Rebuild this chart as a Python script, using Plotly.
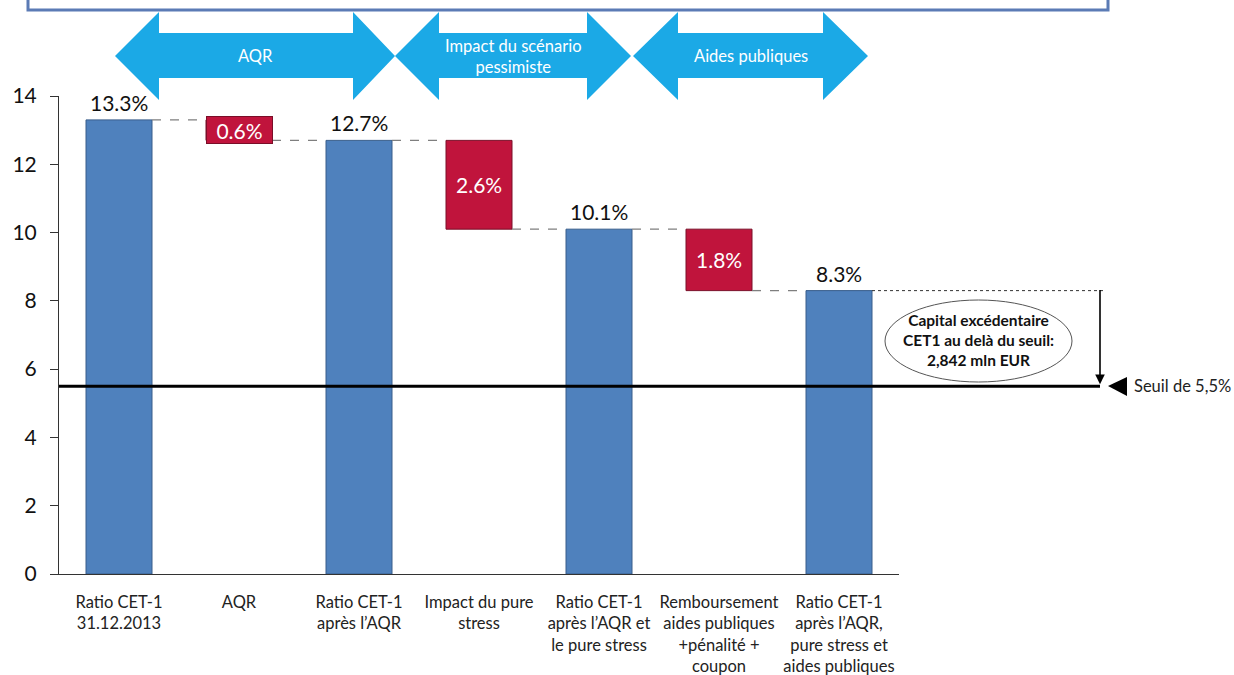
import plotly.graph_objects as go

# ---------------- data ----------------
categories = [
    "Ratio CET-1<br>31.12.2013",
    "AQR",
    "Ratio CET-1<br>après l’AQR",
    "Impact du pure<br>stress",
    "Ratio CET-1<br>après l’AQR et<br>le pure stress",
    "Remboursement<br>aides publiques<br>+pénalité +<br>coupon",
    "Ratio CET-1<br>après l’AQR,<br>pure stress et<br>aides publiques",
]
values = [13.3, -0.6, 12.7, -2.6, 10.1, -1.8, 8.3]
kinds = ["total", "delta", "total", "delta", "total", "delta", "total"]
value_labels = ["13.3%", "0.6%", "12.7%", "2.6%", "10.1%", "1.8%", "8.3%"]
phase_labels = ["AQR", "Impact du scénario<br>pessimiste", "Aides publiques"]
threshold = 5.5
threshold_label = "Seuil de 5,5%"
excess_label = "<b>Capital excédentaire<br>CET1 au delà du seuil:<br>2,842 mln EUR</b>"
y_ticks = [0, 2, 4, 6, 8, 10, 12, 14]

# ---------------- layout constants ----------------
OFF = 0                      # body margin removed via post_script
W, H = 1234 - OFF, 675 - OFF
L, T = 59 - OFF, 96 - OFF
PW, PH = 840, 478
R, B = W - L - PW, H - T - PH
BLUE = "#4F81BD"
RED = "#C0143C"
CYAN = "#1BA9E6"
FONT = "Lato, 'Open Sans', sans-serif"

def px(xp):  # screen px -> paper
    return (xp - OFF - L) / PW

def py(yp):
    return (H - B - (yp - OFF)) / PH

# waterfall bases / heights
bases, heights = [], []
level = 0.0
for v, k in zip(values, kinds):
    if k == "total":
        bases.append(0.0)
        heights.append(v)
        level = v
    else:
        new = level + v
        bases.append(new)
        heights.append(-v)
        level = new

xs = list(range(len(categories)))
bw = 0.55
colors = [BLUE if k == "total" else RED for k in kinds]
lines = ["#385D8A" if k == "total" else "#7A0E28" for k in kinds]

fig = go.Figure()
fig.add_trace(go.Bar(
    x=xs, y=heights, base=bases, width=bw,
    marker=dict(color=colors, line=dict(color=lines, width=1)),
    hoverinfo="skip", showlegend=False,
))

shapes = []
annotations = []

# connectors
for i in range(len(xs) - 1):
    yc = values[i] if kinds[i] == "total" else bases[i]
    shapes.append(dict(type="line", xref="x", yref="y",
                       x0=xs[i] + bw / 2, x1=xs[i + 1] - bw / 2, y0=yc, y1=yc,
                       line=dict(color="#7F7F7F", width=1.3, dash="dash")))

# labels
for i, (k, lab) in enumerate(zip(kinds, value_labels)):
    if k == "total":
        annotations.append(dict(x=xs[i], y=values[i], xref="x", yref="y",
                                text=lab, showarrow=False, xanchor="center",
                                yanchor="bottom", yshift=3,
                                font=dict(family=FONT, size=21, color="#111")))
    else:
        mid = bases[i] + heights[i] / 2
        extra = {}
        if heights[i] < 1.0:
            extra = dict(bgcolor=RED, bordercolor="#7A0E28", borderwidth=1,
                         width=63, height=24, borderpad=1)
        annotations.append(dict(x=xs[i], y=mid, xref="x", yref="y",
                                text=lab, showarrow=False, xanchor="center",
                                yanchor="middle",
                                font=dict(family=FONT, size=21, color="white"), **extra))

# threshold line
shapes.append(dict(type="line", xref="paper", yref="y", x0=0, x1=px(1100),
                   y0=threshold, y1=threshold, line=dict(color="black", width=3)))
# dotted line at last level
shapes.append(dict(type="line", xref="paper", yref="y",
                   x0=(xs[-1] + bw / 2 + 0.5) / len(xs), x1=px(1104),
                   y0=values[-1], y1=values[-1],
                   line=dict(color="#333", width=1, dash="dot")))
# vertical arrow (tail at last level, head at threshold)
arrow_len_px = (values[-1] - threshold) * PH / 14.0
annotations.append(dict(x=px(1100), y=threshold + 0.06, xref="paper", yref="y",
                        ax=0, ay=-arrow_len_px, axref="pixel", ayref="pixel",
                        showarrow=True, arrowhead=2, arrowsize=1.2, arrowwidth=1.6,
                        arrowcolor="black", text="", standoff=0, startstandoff=0))
# ellipse
shapes.append(dict(type="circle", xref="paper", yref="paper",
                   x0=px(885), x1=px(1072), y0=py(382), y1=py(300),
                   line=dict(color="#555", width=1), fillcolor="white"))
annotations.append(dict(x=px(978.5), y=py(340), xref="paper", yref="paper",
                        text=excess_label, showarrow=False,
                        xanchor="center", yanchor="middle",
                        font=dict(family=FONT, size=15.5, color="#111")))
# triangle + threshold text
tri = f"M {px(1108)},{py(386)} L {px(1127)},{py(377)} L {px(1127)},{py(396)} Z"
shapes.append(dict(type="path", xref="paper", yref="paper", path=tri,
                   fillcolor="black", line=dict(color="black", width=0)))
annotations.append(dict(x=px(1132), y=threshold, xref="paper", yref="y",
                        text=threshold_label, showarrow=False, xanchor="left",
                        yanchor="middle",
                        font=dict(family=FONT, size=16.5, color="#222")))

# top banner box
shapes.append(dict(type="rect", xref="paper", yref="paper",
                   x0=px(28), x1=px(1108), y0=py(10), y1=py(-40),
                   line=dict(color="#5B7BB5", width=3), fillcolor="white"))

# double arrows
arrow_geo = [  # left tip, left head base, right head base, right tip (screen px)
    (115, 159, 353, 395),
    (395, 439, 587, 631),
    (633, 678, 823, 868),
]
head_top, head_bot, body_top, body_bot, mid_y = 12, 100, 33, 78, 56
for (lt, lb, rb, rt), lab in zip(arrow_geo, phase_labels):
    pts = [(lt, mid_y), (lb, head_top), (lb, body_top), (rb, body_top), (rb, head_top),
           (rt, mid_y), (rb, head_bot), (rb, body_bot), (lb, body_bot), (lb, head_bot)]
    path = "M " + " L ".join(f"{px(a)},{py(b)}" for a, b in pts) + " Z"
    shapes.append(dict(type="path", xref="paper", yref="paper", path=path,
                       fillcolor=CYAN, line=dict(width=0)))
    annotations.append(dict(x=px((lt + rt) / 2), y=py(mid_y), xref="paper", yref="paper",
                            text=lab, showarrow=False, xanchor="center", yanchor="middle",
                            font=dict(family=FONT, size=16.5, color="white")))

fig.update_layout(
    width=W, height=H,
    margin=dict(l=L, r=R, t=T, b=B, autoexpand=False),
    paper_bgcolor="white", plot_bgcolor="white",
    shapes=shapes, annotations=annotations,
    xaxis=dict(range=[-0.5, len(xs) - 0.5], tickvals=xs, ticktext=categories,
               showline=True, linecolor="#333", linewidth=1, ticks="",
               showgrid=False, zeroline=False, fixedrange=True,
               tickfont=dict(family=FONT, size=16.5, color="#222"),
               ticklabelstandoff=13),
    yaxis=dict(range=[0, 14], tickvals=y_ticks, showline=True, linecolor="#333",
               linewidth=1, ticks="outside", ticklen=8, tickcolor="#333",
               showgrid=False, zeroline=False, fixedrange=True,
               tickfont=dict(family=FONT, size=21, color="#111"),
               ticklabelstandoff=9),
    bargap=0.45,
)

fig.write_html("out.html", config={"displayModeBar": False},
               post_script="document.body.style.margin='0px';")
